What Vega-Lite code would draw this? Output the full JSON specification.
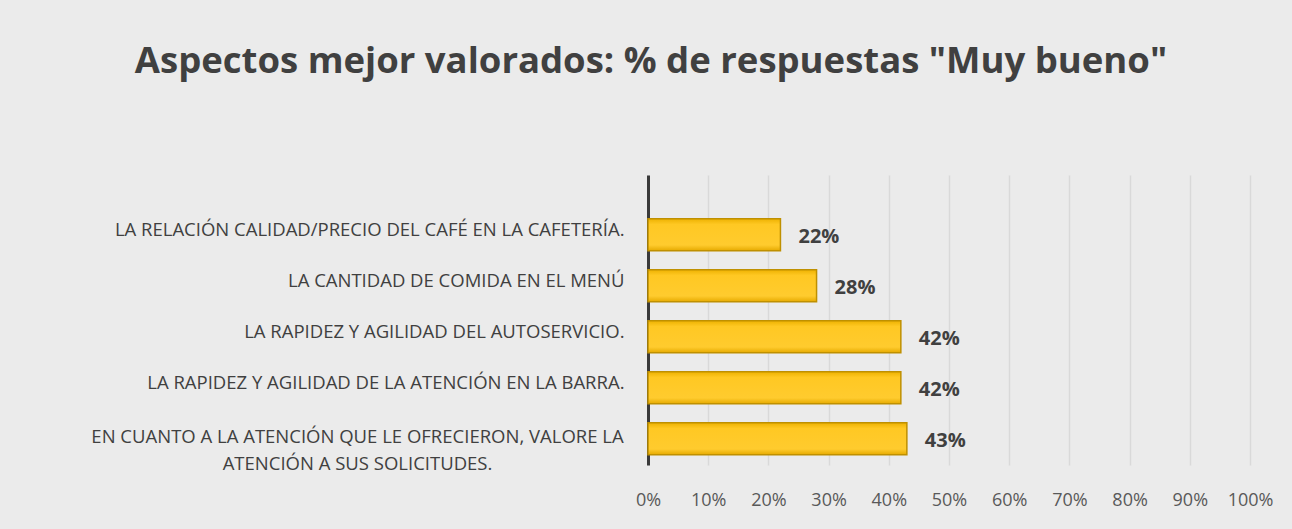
{
  "$schema": "https://vega.github.io/schema/vega-lite/v6.json",
  "width": 602,
  "height": 290,
  "autosize": {"type": "none"},
  "padding": {"left": 648, "top": 175, "right": 42, "bottom": 64},
  "background": "#ebebeb",
  "title": {
    "text": "Aspectos mejor valorados: % de respuestas \"Muy bueno\"",
    "font": "Open Sans",
    "fontSize": 36.5,
    "fontWeight": "bold",
    "color": "#404040",
    "anchor": "middle",
    "dx": -298,
    "offset": 95
  },
  "config": {
    "view": {"stroke": null},
    "font": "Open Sans"
  },
  "data": {
    "values": [
      {"aspecto": "LA RELACIÓN CALIDAD/PRECIO DEL CAFÉ EN LA CAFETERÍA.", "valor": 0.22},
      {"aspecto": "LA CANTIDAD DE COMIDA EN EL MENÚ", "valor": 0.28},
      {"aspecto": "LA RAPIDEZ Y AGILIDAD DEL AUTOSERVICIO.", "valor": 0.42},
      {"aspecto": "LA RAPIDEZ Y AGILIDAD DE LA ATENCIÓN EN LA BARRA.", "valor": 0.42},
      {"aspecto": "EN CUANTO A LA ATENCIÓN QUE LE OFRECIERON, VALORE LA ATENCIÓN A SUS SOLICITUDES.", "valor": 0.43}
    ]
  },
  "encoding": {
    "y": {
      "field": "aspecto",
      "type": "nominal",
      "sort": null,
      "title": null,
      "scale": {"paddingInner": 0.37, "paddingOuter": 0.528, "align": 0.81},
      "axis": {
        "ticks": false,
        "domain": true,
        "domainColor": "#3a3a3a",
        "domainWidth": 3,
        "labelFont": "Open Sans",
        "labelFontSize": 18.5,
        "labelColor": "#404040",
        "labelPadding": {"condition": {"test": "indexof(datum.value, 'EN CUANTO') == 0", "value": 291}, "value": 24},
        "labelAlign": {"condition": {"test": "indexof(datum.value, 'EN CUANTO') == 0", "value": "center"}, "value": "right"},
        "labelLimit": 800,
        "labelLineHeight": 27,
        "labelOffset": {"condition": {"test": "indexof(datum.value, 'EN CUANTO') == 0", "value": -2}, "value": -5},
        "labelExpr": "indexof(datum.value, 'EN CUANTO') == 0 ? ['EN CUANTO A LA ATENCIÓN QUE LE OFRECIERON, VALORE LA', 'ATENCIÓN A SUS SOLICITUDES.'] : datum.value"
      }
    },
    "x": {
      "field": "valor",
      "type": "quantitative",
      "title": null,
      "scale": {"domain": [0, 1]},
      "axis": {
        "format": ".0%",
        "values": [0, 0.1, 0.2, 0.3, 0.4, 0.5, 0.6, 0.7, 0.8, 0.9, 1],
        "labelOverlap": false,
        "labelFlush": false,
        "ticks": false,
        "domain": false,
        "grid": true,
        "gridColor": "#d9d9d9",
        "gridWidth": 1.5,
        "labelFont": "Open Sans",
        "labelFontSize": 18,
        "labelColor": "#595959",
        "labelPadding": 26
      }
    }
  },
  "layer": [
    {
      "mark": {
        "type": "bar",
        "stroke": "#BF9000",
        "strokeWidth": 1.5,
        "color": {
          "gradient": "linear",
          "x1": 0, "y1": 0, "x2": 0, "y2": 1,
          "stops": [
            {"offset": 0, "color": "#EDB100"},
            {"offset": 0.18, "color": "#FFC823"},
            {"offset": 0.82, "color": "#FFCB2E"},
            {"offset": 1, "color": "#E6AA00"}
          ]
        }
      }
    },
    {
      "mark": {
        "type": "text",
        "align": "left",
        "baseline": "middle",
        "dx": 18,
        "dy": 2,
        "font": "Open Sans",
        "fontSize": 20,
        "fontWeight": "bold",
        "color": "#404040"
      },
      "encoding": {
        "text": {"field": "valor", "type": "quantitative", "format": ".0%"}
      }
    }
  ]
}
